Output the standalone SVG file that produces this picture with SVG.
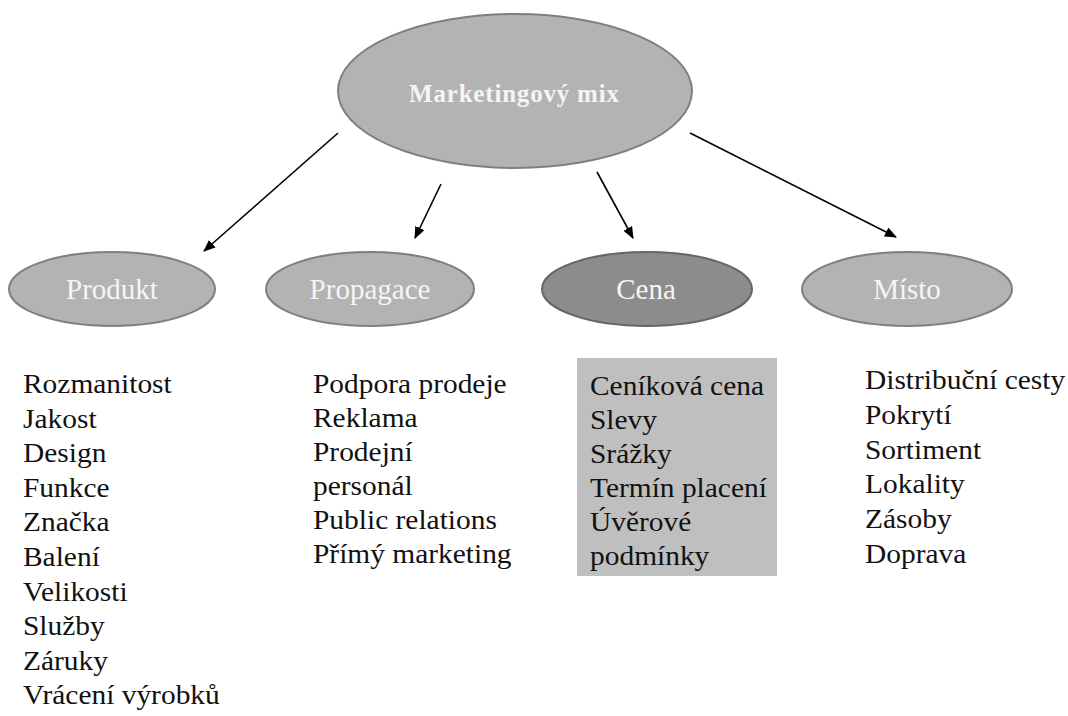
<svg xmlns="http://www.w3.org/2000/svg" width="1068" height="716" viewBox="0 0 1068 716">
<style>
.ell{fill:#b3b3b3;stroke:#7f7f7f;stroke-width:2}
.dark{fill:#8c8c8c;stroke:#666666;stroke-width:2}
.lbl{font-family:'Liberation Serif','DejaVu Serif',serif;font-size:29px;fill:#f5f5f5;text-anchor:middle}
.title{font-family:'Liberation Serif','DejaVu Serif',serif;font-size:25px;font-weight:bold;fill:#f5f5f5;text-anchor:middle}
.list{font-family:'Liberation Serif','DejaVu Serif',serif;font-size:27px;fill:#111111}
.conn{stroke:#000;stroke-width:1.6;fill:none;marker-end:url(#ah)}
</style>
<defs>
<marker id="ah" viewBox="0 0 12 10" refX="11" refY="5" markerWidth="12" markerHeight="10" markerUnits="userSpaceOnUse" orient="auto">
<path d="M0,0 L12,5 L0,10 Z" fill="#000"/>
</marker>
</defs>
<rect width="1068" height="716" fill="#ffffff"/>
<g id="connectors">
<line class="conn" x1="338" y1="133" x2="204" y2="251"/>
<line class="conn" x1="441" y1="184" x2="415" y2="238"/>
<line class="conn" x1="597" y1="172" x2="633" y2="238"/>
<line class="conn" x1="690" y1="133" x2="896" y2="237"/>
</g>
<g id="marketingovy-mix">
<ellipse class="ell" cx="515" cy="91" rx="177" ry="77"/>
<text class="title" x="514" y="102" textLength="210" lengthAdjust="spacing">Marketingový mix</text>
</g>
<g id="produkt">
<ellipse class="ell" cx="112" cy="289" rx="103" ry="37"/>
<text class="lbl" x="112" y="299">Produkt</text>
</g>
<g id="propagace">
<ellipse class="ell" cx="370" cy="289" rx="104" ry="37"/>
<text class="lbl" x="370" y="299">Propagace</text>
</g>
<g id="cena">
<ellipse class="dark" cx="647" cy="289" rx="105" ry="37"/>
<text class="lbl" x="646" y="299">Cena</text>
</g>
<g id="misto">
<ellipse class="ell" cx="907" cy="289" rx="105" ry="37"/>
<text class="lbl" x="907" y="299">Místo</text>
</g>
<g id="produkt-list" transform="matrix(1.09 0 0 1 23 0)">
<text class="list" x="0" y="393">Rozmanitost</text>
<text class="list" x="0" y="427.6">Jakost</text>
<text class="list" x="0" y="462.2">Design</text>
<text class="list" x="0" y="496.8">Funkce</text>
<text class="list" x="0" y="531.4">Značka</text>
<text class="list" x="0" y="566">Balení</text>
<text class="list" x="0" y="600.6">Velikosti</text>
<text class="list" x="0" y="635.2">Služby</text>
<text class="list" x="0" y="669.8">Záruky</text>
<text class="list" x="0" y="704.4">Vrácení výrobků</text>
</g>
<g id="propagace-list" transform="matrix(1.09 0 0 1 313 0)">
<text class="list" x="0" y="393">Podpora prodeje</text>
<text class="list" x="0" y="427">Reklama</text>
<text class="list" x="0" y="461">Prodejní</text>
<text class="list" x="0" y="495">personál</text>
<text class="list" x="0" y="529">Public relations</text>
<text class="list" x="0" y="563">Přímý marketing</text>
</g>
<g id="cena-list">
<rect x="577" y="358" width="200" height="218" fill="#bfbfbf"/>
<g transform="matrix(1.09 0 0 1 590 0)">
<text class="list" x="0" y="395">Ceníková cena</text>
<text class="list" x="0" y="429">Slevy</text>
<text class="list" x="0" y="463">Srážky</text>
<text class="list" x="0" y="497">Termín placení</text>
<text class="list" x="0" y="531">Úvěrové</text>
<text class="list" x="0" y="565">podmínky</text>
</g>
</g>
<g id="misto-list" transform="matrix(1.09 0 0 1 865 0)">
<text class="list" x="0" y="389">Distribuční cesty</text>
<text class="list" x="0" y="423.8">Pokrytí</text>
<text class="list" x="0" y="458.6">Sortiment</text>
<text class="list" x="0" y="493.4">Lokality</text>
<text class="list" x="0" y="528.2">Zásoby</text>
<text class="list" x="0" y="563">Doprava</text>
</g>
</svg>
